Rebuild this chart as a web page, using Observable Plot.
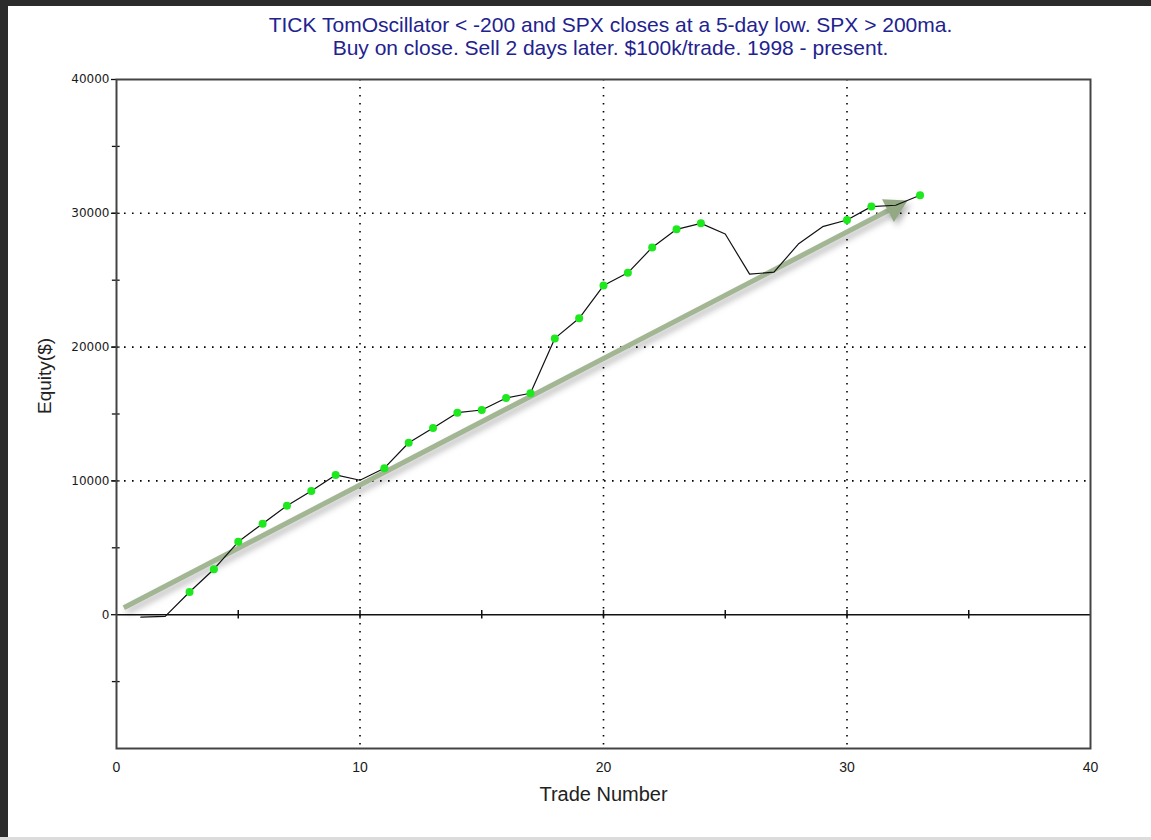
<!DOCTYPE html>
<html>
<head>
<meta charset="utf-8">
<script src="https://cdn.jsdelivr.net/npm/d3@7"></script>
<script src="https://cdn.jsdelivr.net/npm/@observablehq/plot@0.6"></script>
<style>
  html, body { margin: 0; padding: 0; background: #fff; }
  body { width: 1151px; height: 840px; position: relative; overflow: hidden; }
  #topbar { position: absolute; left: 0; top: 0; width: 1151px; height: 6px; background: #2b2b2b; }
  #leftbar { position: absolute; left: 0; top: 0; width: 8px; height: 838px; background: #2b2b2b; }
  #bottomline { position: absolute; left: 0; top: 837px; width: 1151px; height: 3px; background: #dcdcdc; }
  #title { height: 64px; box-sizing: border-box; padding-top: 13px; padding-left: 70px;
    text-align: center; font-family: "Liberation Sans", Arial, sans-serif;
    font-size: 21px; line-height: 23px; color: #22228f; }
  #chart svg { display: block; }
</style>
</head>
<body>
<div id="topbar"></div>
<div id="leftbar"></div>
<div id="bottomline"></div>
<div id="title">
  <div>TICK TomOscillator &lt; -200 and SPX closes at a 5-day low. SPX &gt; 200ma.</div>
  <div>Buy on close. Sell 2 days later. $100k/trade. 1998 - present.</div>
</div>
<div id="chart"></div>
<script>
// ---- data ----
const trades = [1,2,3,4,5,6,7,8,9,10,11,12,13,14,15,16,17,18,19,20,21,22,23,24,25,26,27,28,29,30,31,32,33];
const equity = [-180,-120,1700,3400,5450,6800,8150,9250,10450,10050,10950,12850,13950,15100,15300,16200,16550,20650,22150,24600,25550,27450,28800,29250,28450,25450,25600,27700,29000,29500,30500,30600,31350];
const dotTrades = [3,4,5,6,7,8,9,11,12,13,14,15,16,17,18,19,20,21,22,23,24,30,31,33];
const arrowStart = {trade: 0.3, equity: 520};
const arrowEnd = {trade: 31.95, equity: 30450};
const xTickLabels = [0,10,20,30,40];
const xMinorTicks = [5,10,15,20,25,30,35];
const yTickLabels = [0,10000,20000,30000,40000];
const yMinorTicks = [-5000,5000,10000,15000,20000,25000,30000,35000];
const xGrid = [10,20,30];
const yGrid = [10000,20000,30000];
const xLabel = "Trade Number";
const yLabel = "Equity($)";

const rows = trades.map((t,i) => ({trade: t, equity: equity[i]}));
const dots = rows.filter(d => dotTrades.includes(d.trade));
const arrows = [{x1: arrowStart.trade, y1: arrowStart.equity, x2: arrowEnd.trade, y2: arrowEnd.equity}];

const chart = Plot.plot({
  width: 1151,
  height: 774,
  marginLeft: 116,
  marginRight: 61,
  marginTop: 15,
  marginBottom: 90,
  x: {domain: [0, 40]},
  y: {domain: [-10000, 40000]},
  style: {background: "transparent", overflow: "visible"},
  marks: [
    Plot.ruleX(xGrid, {x: d => d, stroke: "#000", strokeWidth: 1.6, strokeDasharray: "1.6,6.4"}),
    Plot.ruleY(yGrid, {y: d => d, stroke: "#000", strokeWidth: 1.6, strokeDasharray: "1.6,6.4"}),
    Plot.ruleY([0], {stroke: "#111", strokeWidth: 1.5}),
    Plot.ruleX(xMinorTicks, {x: d => d, y1: -320, y2: 320, stroke: "#111", strokeWidth: 1.5}),
    Plot.ruleY(yMinorTicks, {y: d => d, x1: -0.17, x2: 0.15, stroke: "#111", strokeWidth: 1.3}),
    Plot.axisY({ticks: yTickLabels, tickSize: 5, tickPadding: 2, label: null, tickFormat: d => String(d),
      fontSize: 12, fontFamily: "DejaVu Sans", fill: "#1a1a1a", stroke: "#111", strokeWidth: 1.3}),
    Plot.axisX({ticks: xTickLabels, tickSize: 0, tickPadding: 14, label: null, tickFormat: d => String(d),
      fontSize: 14, fontFamily: "Liberation Sans, sans-serif", fill: "#1a1a1a"}),
    Plot.text([xLabel], {text: d => d, frameAnchor: "bottom", dy: 52, fontSize: 20,
      fontFamily: "Liberation Sans, sans-serif", fill: "#222"}),
    Plot.text([yLabel], {text: d => d, frameAnchor: "left", dx: -72, rotate: -90, fontSize: 19,
      fontFamily: "Liberation Sans, sans-serif", fill: "#222"}),
    Plot.link(arrows, {x1: "x1", y1: "y1", x2: "x2", y2: "y2", stroke: "#a2b693", strokeWidth: 5,
      strokeLinecap: "butt"}),
    Plot.dot(arrows, {x: "x2", y: "y2", symbol: "triangle", r: 9.5, rotate: 62.5,
      fill: "#93a983", stroke: "none"}),
    Plot.line(rows, {x: "trade", y: "equity", stroke: "#111", strokeWidth: 1.2}),
    Plot.dot(dots, {x: "trade", y: "equity", r: 4, fill: "#1ee81e", stroke: "none"}),
    Plot.frame({stroke: "#444", strokeWidth: 2})
  ]
});
document.getElementById("chart").appendChild(chart);
const shadow = "drop-shadow(3px 4px 3px rgba(0,0,0,0.28))";
const linkG = chart.querySelector('g[aria-label="link"]');
if (linkG) linkG.style.filter = shadow;
const dotGs = chart.querySelectorAll('g[aria-label="dot"]');
if (dotGs.length) dotGs[0].style.filter = shadow;
</script>
</body>
</html>
